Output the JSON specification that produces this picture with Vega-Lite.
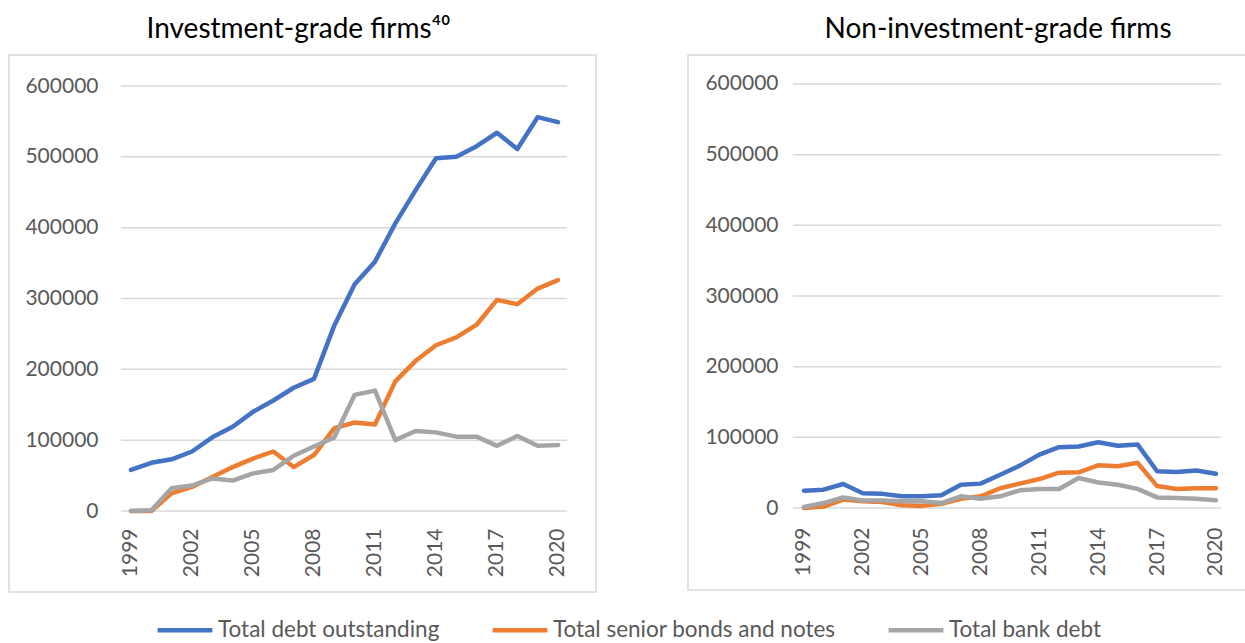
{
  "$schema": "https://vega.github.io/schema/vega-lite/v6.json",
  "padding": {"left": 8, "top": 15, "right": 0, "bottom": 0},
  "autosize": {"type": "pad"},
  "background": "white",
  "config": {
    "font": "Lato",
    "view": {"stroke": "#d9d9d9", "strokeWidth": 1.5},
    "title": {"fontSize": 28, "fontWeight": "normal", "color": "#000000", "font": "Lato", "anchor": "middle", "offset": 11, "baseline": "alphabetic"},
    "axis": {"labelFont": "Lato", "labelFontSize": 21, "labelColor": "#595959", "domain": false, "ticks": false, "grid": false, "title": null},
    "line": {"strokeWidth": 4.5, "strokeJoin": "round", "strokeCap": "round"},
    "concat": {"spacing": 90},
    "legend": {"orient": "bottom", "offset": 7, "direction": "horizontal", "title": null, "labelFontSize": 22.5, "labelColor": "#595959", "labelFont": "Lato", "labelLimit": 500, "symbolType": "stroke", "symbolSize": 3000, "symbolStrokeWidth": 5, "labelOffset": 3, "columnPadding": 50, "padding": 0, "layout": {"bottom": {"anchor": "middle"}}}
  },
  "datasets": {
    "grid": [{"g": 0}, {"g": 100000}, {"g": 200000}, {"g": 300000}, {"g": 400000}, {"g": 500000}, {"g": 600000}],
    "ig": [
      {"year": 1999, "series": "Total debt outstanding", "value": 58000},
      {"year": 2000, "series": "Total debt outstanding", "value": 68000},
      {"year": 2001, "series": "Total debt outstanding", "value": 73000},
      {"year": 2002, "series": "Total debt outstanding", "value": 84000},
      {"year": 2003, "series": "Total debt outstanding", "value": 104000},
      {"year": 2004, "series": "Total debt outstanding", "value": 119000},
      {"year": 2005, "series": "Total debt outstanding", "value": 140000},
      {"year": 2006, "series": "Total debt outstanding", "value": 156000},
      {"year": 2007, "series": "Total debt outstanding", "value": 174000},
      {"year": 2008, "series": "Total debt outstanding", "value": 186500},
      {"year": 2009, "series": "Total debt outstanding", "value": 262000},
      {"year": 2010, "series": "Total debt outstanding", "value": 320000},
      {"year": 2011, "series": "Total debt outstanding", "value": 352000},
      {"year": 2012, "series": "Total debt outstanding", "value": 406000},
      {"year": 2013, "series": "Total debt outstanding", "value": 453000},
      {"year": 2014, "series": "Total debt outstanding", "value": 498000},
      {"year": 2015, "series": "Total debt outstanding", "value": 500000},
      {"year": 2016, "series": "Total debt outstanding", "value": 515000},
      {"year": 2017, "series": "Total debt outstanding", "value": 534000},
      {"year": 2018, "series": "Total debt outstanding", "value": 511000},
      {"year": 2019, "series": "Total debt outstanding", "value": 556000},
      {"year": 2020, "series": "Total debt outstanding", "value": 549000},
      {"year": 1999, "series": "Total senior bonds and notes", "value": 0},
      {"year": 2000, "series": "Total senior bonds and notes", "value": 0},
      {"year": 2001, "series": "Total senior bonds and notes", "value": 25000},
      {"year": 2002, "series": "Total senior bonds and notes", "value": 34000},
      {"year": 2003, "series": "Total senior bonds and notes", "value": 48000},
      {"year": 2004, "series": "Total senior bonds and notes", "value": 62000},
      {"year": 2005, "series": "Total senior bonds and notes", "value": 74000},
      {"year": 2006, "series": "Total senior bonds and notes", "value": 84000},
      {"year": 2007, "series": "Total senior bonds and notes", "value": 62000},
      {"year": 2008, "series": "Total senior bonds and notes", "value": 79000},
      {"year": 2009, "series": "Total senior bonds and notes", "value": 117000},
      {"year": 2010, "series": "Total senior bonds and notes", "value": 125000},
      {"year": 2011, "series": "Total senior bonds and notes", "value": 122000},
      {"year": 2012, "series": "Total senior bonds and notes", "value": 183000},
      {"year": 2013, "series": "Total senior bonds and notes", "value": 212000},
      {"year": 2014, "series": "Total senior bonds and notes", "value": 234000},
      {"year": 2015, "series": "Total senior bonds and notes", "value": 245000},
      {"year": 2016, "series": "Total senior bonds and notes", "value": 263000},
      {"year": 2017, "series": "Total senior bonds and notes", "value": 298000},
      {"year": 2018, "series": "Total senior bonds and notes", "value": 292000},
      {"year": 2019, "series": "Total senior bonds and notes", "value": 314000},
      {"year": 2020, "series": "Total senior bonds and notes", "value": 326000},
      {"year": 1999, "series": "Total bank debt", "value": 0},
      {"year": 2000, "series": "Total bank debt", "value": 1000},
      {"year": 2001, "series": "Total bank debt", "value": 32000},
      {"year": 2002, "series": "Total bank debt", "value": 36000},
      {"year": 2003, "series": "Total bank debt", "value": 46000},
      {"year": 2004, "series": "Total bank debt", "value": 43000},
      {"year": 2005, "series": "Total bank debt", "value": 53000},
      {"year": 2006, "series": "Total bank debt", "value": 58000},
      {"year": 2007, "series": "Total bank debt", "value": 78000},
      {"year": 2008, "series": "Total bank debt", "value": 91000},
      {"year": 2009, "series": "Total bank debt", "value": 104000},
      {"year": 2010, "series": "Total bank debt", "value": 164000},
      {"year": 2011, "series": "Total bank debt", "value": 170000},
      {"year": 2012, "series": "Total bank debt", "value": 100000},
      {"year": 2013, "series": "Total bank debt", "value": 113000},
      {"year": 2014, "series": "Total bank debt", "value": 111000},
      {"year": 2015, "series": "Total bank debt", "value": 105000},
      {"year": 2016, "series": "Total bank debt", "value": 105000},
      {"year": 2017, "series": "Total bank debt", "value": 92000},
      {"year": 2018, "series": "Total bank debt", "value": 106000},
      {"year": 2019, "series": "Total bank debt", "value": 92000},
      {"year": 2020, "series": "Total bank debt", "value": 93000}
    ],
    "nig": [
      {"year": 1999, "series": "Total debt outstanding", "value": 24500},
      {"year": 2000, "series": "Total debt outstanding", "value": 26000},
      {"year": 2001, "series": "Total debt outstanding", "value": 34000},
      {"year": 2002, "series": "Total debt outstanding", "value": 21000},
      {"year": 2003, "series": "Total debt outstanding", "value": 20000},
      {"year": 2004, "series": "Total debt outstanding", "value": 16500},
      {"year": 2005, "series": "Total debt outstanding", "value": 16500},
      {"year": 2006, "series": "Total debt outstanding", "value": 18000},
      {"year": 2007, "series": "Total debt outstanding", "value": 33000},
      {"year": 2008, "series": "Total debt outstanding", "value": 34500},
      {"year": 2009, "series": "Total debt outstanding", "value": 47000},
      {"year": 2010, "series": "Total debt outstanding", "value": 60000},
      {"year": 2011, "series": "Total debt outstanding", "value": 75500},
      {"year": 2012, "series": "Total debt outstanding", "value": 86000},
      {"year": 2013, "series": "Total debt outstanding", "value": 87000},
      {"year": 2014, "series": "Total debt outstanding", "value": 93000},
      {"year": 2015, "series": "Total debt outstanding", "value": 88000},
      {"year": 2016, "series": "Total debt outstanding", "value": 90000},
      {"year": 2017, "series": "Total debt outstanding", "value": 52000},
      {"year": 2018, "series": "Total debt outstanding", "value": 51000},
      {"year": 2019, "series": "Total debt outstanding", "value": 53000},
      {"year": 2020, "series": "Total debt outstanding", "value": 48500},
      {"year": 1999, "series": "Total senior bonds and notes", "value": 0},
      {"year": 2000, "series": "Total senior bonds and notes", "value": 2000},
      {"year": 2001, "series": "Total senior bonds and notes", "value": 12000},
      {"year": 2002, "series": "Total senior bonds and notes", "value": 9500},
      {"year": 2003, "series": "Total senior bonds and notes", "value": 8500},
      {"year": 2004, "series": "Total senior bonds and notes", "value": 4000},
      {"year": 2005, "series": "Total senior bonds and notes", "value": 3000},
      {"year": 2006, "series": "Total senior bonds and notes", "value": 6000},
      {"year": 2007, "series": "Total senior bonds and notes", "value": 13000},
      {"year": 2008, "series": "Total senior bonds and notes", "value": 16500},
      {"year": 2009, "series": "Total senior bonds and notes", "value": 28000},
      {"year": 2010, "series": "Total senior bonds and notes", "value": 34500},
      {"year": 2011, "series": "Total senior bonds and notes", "value": 41000},
      {"year": 2012, "series": "Total senior bonds and notes", "value": 50000},
      {"year": 2013, "series": "Total senior bonds and notes", "value": 50500},
      {"year": 2014, "series": "Total senior bonds and notes", "value": 60500},
      {"year": 2015, "series": "Total senior bonds and notes", "value": 59000},
      {"year": 2016, "series": "Total senior bonds and notes", "value": 64000},
      {"year": 2017, "series": "Total senior bonds and notes", "value": 31000},
      {"year": 2018, "series": "Total senior bonds and notes", "value": 27000},
      {"year": 2019, "series": "Total senior bonds and notes", "value": 28000},
      {"year": 2020, "series": "Total senior bonds and notes", "value": 28000},
      {"year": 1999, "series": "Total bank debt", "value": 1500},
      {"year": 2000, "series": "Total bank debt", "value": 7000},
      {"year": 2001, "series": "Total bank debt", "value": 15000},
      {"year": 2002, "series": "Total bank debt", "value": 10500},
      {"year": 2003, "series": "Total bank debt", "value": 10500},
      {"year": 2004, "series": "Total bank debt", "value": 9500},
      {"year": 2005, "series": "Total bank debt", "value": 9500},
      {"year": 2006, "series": "Total bank debt", "value": 7000},
      {"year": 2007, "series": "Total bank debt", "value": 16500},
      {"year": 2008, "series": "Total bank debt", "value": 13000},
      {"year": 2009, "series": "Total bank debt", "value": 16500},
      {"year": 2010, "series": "Total bank debt", "value": 25000},
      {"year": 2011, "series": "Total bank debt", "value": 27000},
      {"year": 2012, "series": "Total bank debt", "value": 27000},
      {"year": 2013, "series": "Total bank debt", "value": 42500},
      {"year": 2014, "series": "Total bank debt", "value": 36000},
      {"year": 2015, "series": "Total bank debt", "value": 33000},
      {"year": 2016, "series": "Total bank debt", "value": 27000},
      {"year": 2017, "series": "Total bank debt", "value": 15000},
      {"year": 2018, "series": "Total bank debt", "value": 14000},
      {"year": 2019, "series": "Total bank debt", "value": 13000},
      {"year": 2020, "series": "Total bank debt", "value": 11000}
    ]
  },
  "hconcat": [
    {
      "width": 587,
      "height": 537,
      "title": {"text": "Investment-grade firms⁴⁰", "dx": -4},
      "layer": [
        {
          "data": {"name": "grid"},
          "mark": {"type": "rule", "color": "#d9d9d9", "strokeWidth": 1.5},
          "encoding": {
            "y": {"field": "g", "type": "quantitative", "scale": {"domain": [-114353, 643765], "nice": false, "zero": false},
                  "axis": {"values": [0, 100000, 200000, 300000, 400000, 500000, 600000], "format": "d", "offset": -91, "labelPadding": 2}},
            "x": {"datum": 1998.5, "type": "quantitative", "scale": {"domain": [1993.0, 2021.87], "nice": false, "zero": false},
                  "axis": {"values": [1999, 2002, 2005, 2008, 2011, 2014, 2017, 2020], "format": "d", "labelAngle": -90, "labelAlign": "right", "labelBaseline": "middle", "offset": -68, "labelPadding": 4}},
            "x2": {"datum": 2020.45}
          }
        },
        {
          "data": {"name": "ig"},
          "mark": "line",
          "encoding": {
            "x": {"field": "year", "type": "quantitative", "scale": {"domain": [1993.0, 2021.87], "nice": false, "zero": false},
                  "axis": {"values": [1999, 2002, 2005, 2008, 2011, 2014, 2017, 2020], "format": "d", "labelAngle": -90, "labelAlign": "right", "labelBaseline": "middle", "offset": -68, "labelPadding": 4}},
            "y": {"field": "value", "type": "quantitative", "scale": {"domain": [-114353, 643765], "nice": false, "zero": false},
                  "axis": {"values": [0, 100000, 200000, 300000, 400000, 500000, 600000], "format": "d", "offset": -91, "labelPadding": 2}},
            "color": {"field": "series", "type": "nominal",
                      "scale": {"domain": ["Total debt outstanding", "Total senior bonds and notes", "Total bank debt"], "range": ["#4472C4", "#ED7D31", "#A5A5A5"]},
                      "legend": {"orient": "bottom", "direction": "horizontal", "labelLimit": 500}}
          }
        }
      ]
    },
    {
      "width": 558,
      "height": 535,
      "title": {"text": "Non-investment-grade firms", "dx": 31},
      "layer": [
        {
          "data": {"name": "grid"},
          "mark": {"type": "rule", "color": "#d9d9d9", "strokeWidth": 1.5},
          "encoding": {
            "y": {"field": "g", "type": "quantitative", "scale": {"domain": [-116032, 641036], "nice": false, "zero": false},
                  "axis": {"values": [0, 100000, 200000, 300000, 400000, 500000, 600000], "format": "d", "offset": -92, "labelPadding": 2}},
            "x": {"datum": 1998.44, "type": "quantitative", "scale": {"domain": [1993.09, 2021.53], "nice": false, "zero": false},
                  "axis": {"values": [1999, 2002, 2005, 2008, 2011, 2014, 2017, 2020], "format": "d", "labelAngle": -90, "labelAlign": "right", "labelBaseline": "middle", "offset": -67, "labelPadding": 4}},
            "x2": {"datum": 2020.26}
          }
        },
        {
          "data": {"name": "nig"},
          "mark": "line",
          "encoding": {
            "x": {"field": "year", "type": "quantitative", "scale": {"domain": [1993.09, 2021.53], "nice": false, "zero": false},
                  "axis": {"values": [1999, 2002, 2005, 2008, 2011, 2014, 2017, 2020], "format": "d", "labelAngle": -90, "labelAlign": "right", "labelBaseline": "middle", "offset": -67, "labelPadding": 4}},
            "y": {"field": "value", "type": "quantitative", "scale": {"domain": [-116032, 641036], "nice": false, "zero": false},
                  "axis": {"values": [0, 100000, 200000, 300000, 400000, 500000, 600000], "format": "d", "offset": -92, "labelPadding": 2}},
            "color": {"field": "series", "type": "nominal",
                      "scale": {"domain": ["Total debt outstanding", "Total senior bonds and notes", "Total bank debt"], "range": ["#4472C4", "#ED7D31", "#A5A5A5"]},
                      "legend": {"orient": "bottom", "direction": "horizontal", "labelLimit": 500}}
          }
        }
      ]
    }
  ],
  "resolve": {"scale": {"color": "shared"}}
}
